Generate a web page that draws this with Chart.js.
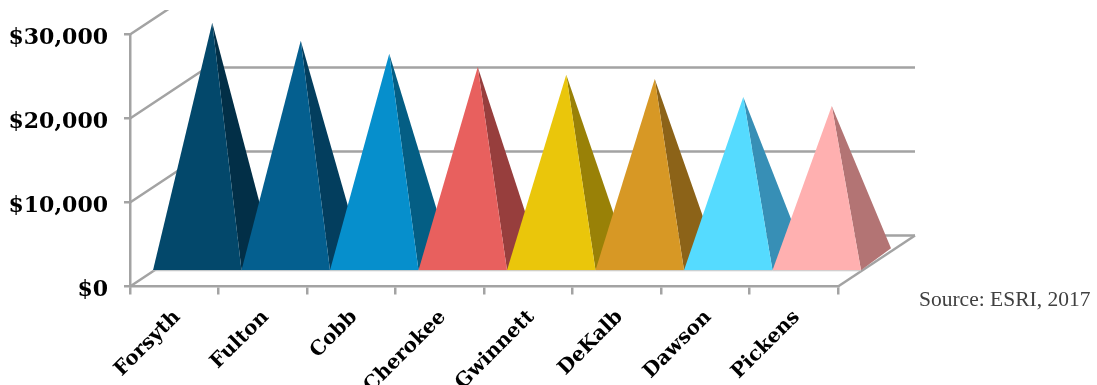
<!DOCTYPE html>
<html>
<head>
<meta charset="utf-8">
<title>Per capita income by county</title>
<script src="https://cdn.jsdelivr.net/npm/chart.js@4/dist/chart.umd.js"></script>
<style>
  html, body { margin: 0; padding: 0; background: #fff; overflow: hidden; }
  canvas { display: block; }
</style>
</head>
<body>
<canvas id="chart" width="1097" height="385"></canvas>
<script>
const counties = ["Forsyth", "Fulton", "Cobb", "Cherokee", "Gwinnett", "DeKalb", "Dawson", "Pickens"];
const incomeValues = [28300, 26150, 24600, 23050, 22100, 21600, 19450, 18400];
const frontColors = ["#03486b", "#045f8f", "#068fcc", "#e8605e", "#eac60b", "#d79825", "#55dbff", "#ffb0b0"];
const sideColors = ["#022f47", "#033e5e", "#045e84", "#973e3d", "#998107", "#8c6318", "#378fb6", "#b37474"];
const sourceNote = "Source: ESRI, 2017";

const GRID = "#a3a3a3";
const SERIF_BOLD = "'DejaVu Serif'";

// Oblique projection of the floor: how far the back wall sits from the front axis.
const WALL = { dx: 77, dy: -51 };
// Where each pyramid's footprint sits on that floor.
const FOOT = { frontX: 23, frontY: -15, centerX: 38, centerY: -26, backX: 30, backY: -22 };

class PyramidElement extends Chart.BarElement {
  static id = "pyramid3d";
  static defaults = { ...Chart.BarElement.defaults };
  draw(ctx) {
    const { x, y, base, width } = this;
    const fy = base + FOOT.frontY;
    const left = x + FOOT.frontX - width / 2;
    const right = x + FOOT.frontX + width / 2;
    const apexX = x + FOOT.centerX;
    const apexY = y + FOOT.centerY;
    ctx.save();
    // Shaded right-hand face first, so the lit face sits on top of the shared edge.
    ctx.fillStyle = this.options.borderColor;
    ctx.beginPath();
    ctx.moveTo(right, fy);
    ctx.lineTo(right + FOOT.backX, fy + FOOT.backY);
    ctx.lineTo(apexX, apexY);
    ctx.closePath();
    ctx.fill();
    ctx.fillStyle = this.options.backgroundColor;
    ctx.beginPath();
    ctx.moveTo(left, fy);
    ctx.lineTo(right, fy);
    ctx.lineTo(apexX, apexY);
    ctx.closePath();
    ctx.fill();
    // Thin light edge along the foot of the lit face.
    ctx.strokeStyle = "#c4c4c4";
    ctx.lineWidth = 1;
    ctx.beginPath();
    ctx.moveTo(left, fy + 0.5);
    ctx.lineTo(right, fy + 0.5);
    ctx.stroke();
    ctx.restore();
  }
}

class PyramidController extends Chart.BarController {
  static id = "pyramid";
  static defaults = { ...Chart.BarController.defaults, dataElementType: "pyramid3d" };
  static overrides = Chart.BarController.overrides;
}

Chart.register(PyramidElement, PyramidController);

// Floor and left/back walls, drawn behind the pyramids from the value scale.
const wallsPlugin = {
  id: "walls",
  beforeDatasetsDraw(chart) {
    const { ctx, scales: { x, y } } = chart;
    const l = x.left, r = x.right;
    ctx.save();
    ctx.beginPath();
    ctx.rect(0, 10, chart.width, chart.height - 10);
    ctx.clip();
    ctx.strokeStyle = GRID;
    ctx.lineWidth = 2.5;
    y.ticks.forEach(t => {
      const py = y.getPixelForValue(t.value);
      ctx.beginPath();
      ctx.moveTo(l, py);
      ctx.lineTo(l + WALL.dx, py + WALL.dy);
      ctx.lineTo(r + WALL.dx, py + WALL.dy);
      ctx.stroke();
    });
    const zero = y.getPixelForValue(0);
    ctx.beginPath();
    ctx.moveTo(r, zero);
    ctx.lineTo(r + WALL.dx, zero + WALL.dy);
    ctx.stroke();
    ctx.restore();
  }
};

const sourcePlugin = {
  id: "sourceNote",
  afterDraw(chart) {
    const { ctx } = chart;
    ctx.save();
    ctx.font = "21.5px 'Liberation Serif'";
    ctx.fillStyle = "#404040";
    ctx.textAlign = "left";
    ctx.textBaseline = "alphabetic";
    ctx.fillText(sourceNote, 919, 306);
    ctx.restore();
  }
};

new Chart(document.getElementById("chart"), {
  type: "pyramid",
  data: {
    labels: counties,
    datasets: [{
      label: "Income",
      data: incomeValues,
      backgroundColor: frontColors,
      borderColor: sideColors,
      borderWidth: 0,
      categoryPercentage: 1,
      barPercentage: 1,
      clip: false
    }]
  },
  options: {
    responsive: false,
    animation: false,
    layout: { padding: { left: 0, top: 34.5, right: 259, bottom: 0 } },
    plugins: { legend: { display: false }, tooltip: { enabled: false }, title: { display: false } },
    scales: {
      x: {
        type: "category",
        offset: true,
        afterFit(s) { s.height = 98.5; },
        grid: { offset: true, drawOnChartArea: false, color: GRID, lineWidth: 2.5, tickLength: 8 },
        border: { color: GRID, width: 2.5 },
        ticks: {
          color: "#000",
          font: { family: SERIF_BOLD, weight: "bold", size: 20 },
          minRotation: 45, maxRotation: 45, padding: 11, labelOffset: 3, autoSkip: false
        }
      },
      y: {
        min: 0, max: 30000,
        afterFit(s) { s.width = 130; },
        grid: { drawOnChartArea: false, color: GRID, lineWidth: 2.5, tickLength: 6 },
        border: { color: GRID, width: 2.5 },
        ticks: {
          stepSize: 10000,
          color: "#000",
          padding: 16,
          labelOffset: 4,
          font: { family: SERIF_BOLD, weight: "bold", size: 22 },
          callback: v => "$" + v.toLocaleString("en-US")
        }
      }
    }
  },
  plugins: [wallsPlugin, sourcePlugin]
});
</script>
</body>
</html>
